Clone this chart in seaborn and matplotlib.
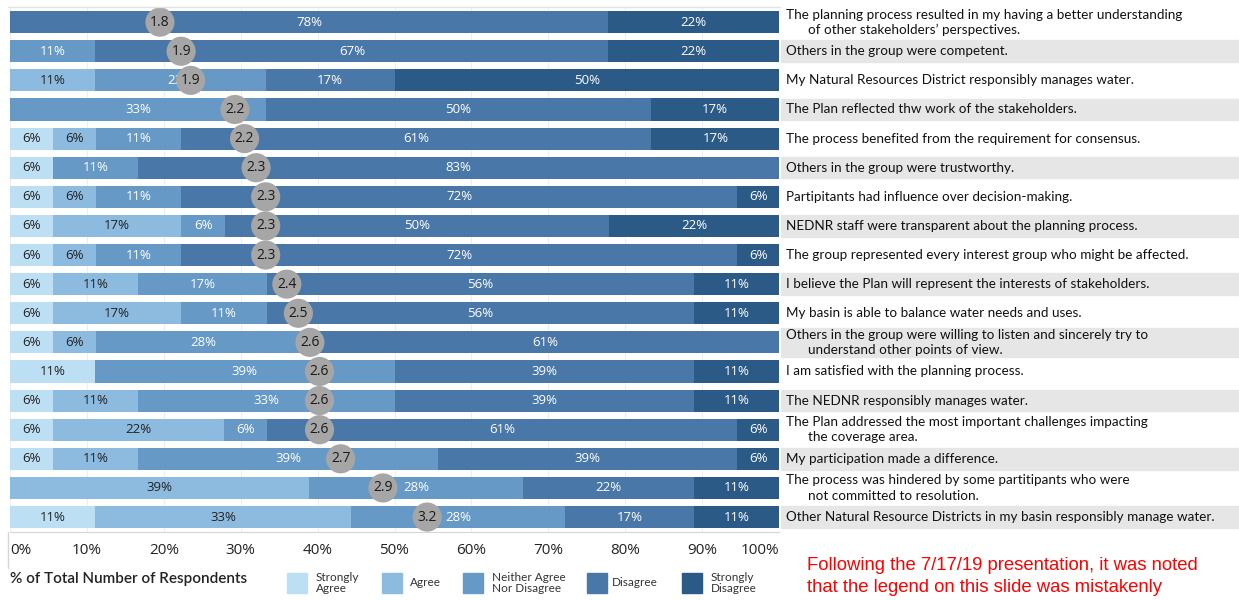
import matplotlib
matplotlib.use("Agg")
import matplotlib.pyplot as plt
from matplotlib.patches import Rectangle
from matplotlib.lines import Line2D
import pandas as pd
import seaborn as sns

# survey statements, top to bottom
statements = [
    "The planning process resulted in my having a better understanding\nof other stakeholders\u2019 perspectives.",
    "Others in the group were competent.",
    "My Natural Resources District responsibly manages water.",
    "The Plan reflected thw work of the stakeholders.",
    "The process benefited from the requirement for consensus.",
    "Others in the group were trustworthy.",
    "Partipitants had influence over decision-making.",
    "NEDNR staff were transparent about the planning process.",
    "The group represented every interest group who might be affected.",
    "I believe the Plan will represent the interests of stakeholders.",
    "My basin is able to balance water needs and uses.",
    "Others in the group were willing to listen and sincerely try to\nunderstand other points of view.",
    "I am satisfied with the planning process.",
    "The NEDNR responsibly manages water.",
    "The Plan addressed the most important challenges impacting\nthe coverage area.",
    "My participation made a difference.",
    "The process was hindered by some partitipants who were\nnot committed to resolution.",
    "Other Natural Resource Districts in my basin responsibly manage water.",
]

responses = ["Strongly Agree", "Agree", "Neither Agree Nor Disagree", "Disagree", "Strongly Disagree"]
legend_labels = ["Strongly\nAgree", "Agree", "Neither Agree\nNor Disagree", "Disagree", "Strongly\nDisagree"]

# % of respondents per answer
strongly_agree = [0, 0, 0, 0, 5.6, 5.6, 5.6, 5.6, 5.6, 5.6, 5.6, 5.6, 11.1, 5.6, 5.6, 5.6, 0, 11.1]
agree = [0, 0, 11.1, 0, 5.6, 0, 5.6, 16.7, 5.6, 11.1, 16.7, 5.6, 0, 11.1, 22.2, 11.1, 38.9, 33.3]
neither = [0, 11.1, 22.2, 33.3, 11.1, 11.1, 11.1, 5.6, 11.1, 16.7, 11.1, 27.8, 38.9, 33.3, 5.6, 38.9, 27.8, 27.8]
disagree = [77.8, 66.7, 16.7, 50.0, 61.1, 83.3, 72.2, 50.0, 72.2, 55.6, 55.6, 61.1, 38.9, 38.9, 61.1, 38.9, 22.2, 16.7]
strongly_disagree = [22.2, 22.2, 50.0, 16.7, 16.7, 0, 5.6, 22.2, 5.6, 11.1, 11.1, 0, 11.1, 11.1, 5.6, 5.6, 11.1, 11.1]

# average score shown in the grey circles (1-5 scale)
mean_score = [1.78, 1.89, 1.94, 2.17, 2.22, 2.28, 2.33, 2.33, 2.33, 2.44, 2.50, 2.56,
              2.61, 2.61, 2.61, 2.72, 2.94, 3.17]

colors = ["#bcdff3", "#8dbbe0", "#6699c6", "#4977a8", "#2b5a87"]
text_colors = ["#222222", "#222222", "white", "white", "white"]

rows = []
for i, s in enumerate(statements):
    vals = [strongly_agree[i], agree[i], neither[i], disagree[i], strongly_disagree[i]]
    cum = 0
    for r, v in zip(responses, vals):
        cum += v
        rows.append({"statement": s, "response": r, "pct": v, "cum": cum})
df = pd.DataFrame(rows)

sns.set_style("white")
plt.rcParams["font.family"] = ["Lato", "DejaVu Sans"]

W, H = 1239, 600
fig = plt.figure(figsize=(W / 100, H / 100), dpi=100)
ax = fig.add_axes([10 / W, 1 - 531.6 / H, 769 / W, 524 / H])
ax_txt = fig.add_axes([781 / W, 1 - 531.6 / H, 458 / W, 524 / H])

# stacked bars: draw cumulative totals from the last answer back to the first
for k in range(len(responses) - 1, -1, -1):
    sub = df[df["response"] == responses[k]]
    sns.barplot(data=sub, x="cum", y="statement", order=statements, color=colors[k],
                saturation=1, width=0.76, orient="h", errorbar=None, ax=ax, zorder=2,
                linewidth=0, edgecolor="none")

for _, r in df.iterrows():
    if r["pct"] <= 0:
        continue
    k = responses.index(r["response"])
    i = statements.index(r["statement"])
    ax.text(r["cum"] - r["pct"] / 2, i, f"{r['pct']:.0f}%", ha="center", va="center",
            fontsize=9.5, color=text_colors[k], family=["Open Sans", "DejaVu Sans"], zorder=3)

# mean score circles
pos = [(m - 1) / 4 * 100 for m in mean_score]
ax.scatter(pos, range(len(statements)), s=440, color="#a6a6a6", edgecolor="none", zorder=4, clip_on=False)
for i, (p, m) in enumerate(zip(pos, mean_score)):
    ax.text(p, i, f"{m:.1f}", ha="center", va="center", fontsize=10, color="#1a1a1a",
            family=["Open Sans", "DejaVu Sans"], zorder=5)

n = len(statements)
ax.set_xlim(0, 100)
ax.set_ylim(n - 0.5, -0.5)
ax.set_yticks([])
ax.set_ylabel("")
ax.set_xlabel("")
ticks = list(range(0, 101, 10))
ax.set_xticks(ticks)
ax.set_xticklabels([f"{t}%" for t in ticks], fontsize=11, family=["Open Sans", "DejaVu Sans"], color="#222222")
tl = ax.get_xticklabels()
tl[0].set_ha("left")
tl[-1].set_ha("right")
ax.tick_params(axis="x", length=0, pad=8)
ax.grid(axis="x", color="#eeeeee", lw=0.8)
ax.set_axisbelow(True)
for side in ["top", "left", "right"]:
    ax.spines[side].set_visible(False)
ax.spines["bottom"].set_color("#d6d6d6")

# statement labels with alternating bands
ax_txt.set_xlim(0, 458)
ax_txt.set_ylim(n - 0.5, -0.5)
ax_txt.axis("off")
for i, s in enumerate(statements):
    lines = s.split("\n")
    if i % 2 == 1:
        half = 0.5 if len(lines) > 1 else 0.37
        ax_txt.axhspan(i - half, i + half, color="#e6e6e6", zorder=0)
    if len(lines) == 1:
        ax_txt.text(5, i, lines[0], va="center", fontsize=9.7, color="#111111")
    else:
        ax_txt.text(5, i - 0.26, lines[0], va="center", fontsize=9.7, color="#111111")
        ax_txt.text(27, i + 0.26, lines[1], va="center", fontsize=9.7, color="#111111")

# frame lines
fig.add_artist(Line2D([8 / W, 780 / W], [1 - 7 / H, 1 - 7 / H], color="#e3e3e3", lw=1))
fig.add_artist(Line2D([8 / W, 8 / W], [1 - 532 / H, 1 - 568 / H], color="#d6d6d6", lw=1))

# legend
fig.text(10 / W, 1 - 579 / H, "% of Total Number of Respondents", va="center", fontsize=11,
         weight="semibold", color="#222222")
swatch_x = [287, 382, 463, 587, 682]
label_x = [316, 410, 492, 612, 711]
for k in range(len(responses)):
    fig.add_artist(Rectangle((swatch_x[k] / W, 1 - 593 / H), 20 / W, 20 / H,
                             transform=fig.transFigure, color=colors[k]))
    fig.text(label_x[k] / W, 1 - 583 / H, legend_labels[k], va="center", fontsize=8.5,
             color="#333333", linespacing=1.0)

note = ["Following the 7/17/19 presentation, it was noted",
        "that the legend on this slide was mistakenly"]
fig.text(807 / W, 1 - 565 / H, note[0], va="center", fontsize=13.3, color="#ff0000",
         family=["Liberation Sans", "DejaVu Sans"])
fig.text(807 / W, 1 - 588 / H, note[1], va="center", fontsize=13.3, color="#ff0000",
         family=["Liberation Sans", "DejaVu Sans"])

fig.savefig("out.png", dpi=100)
